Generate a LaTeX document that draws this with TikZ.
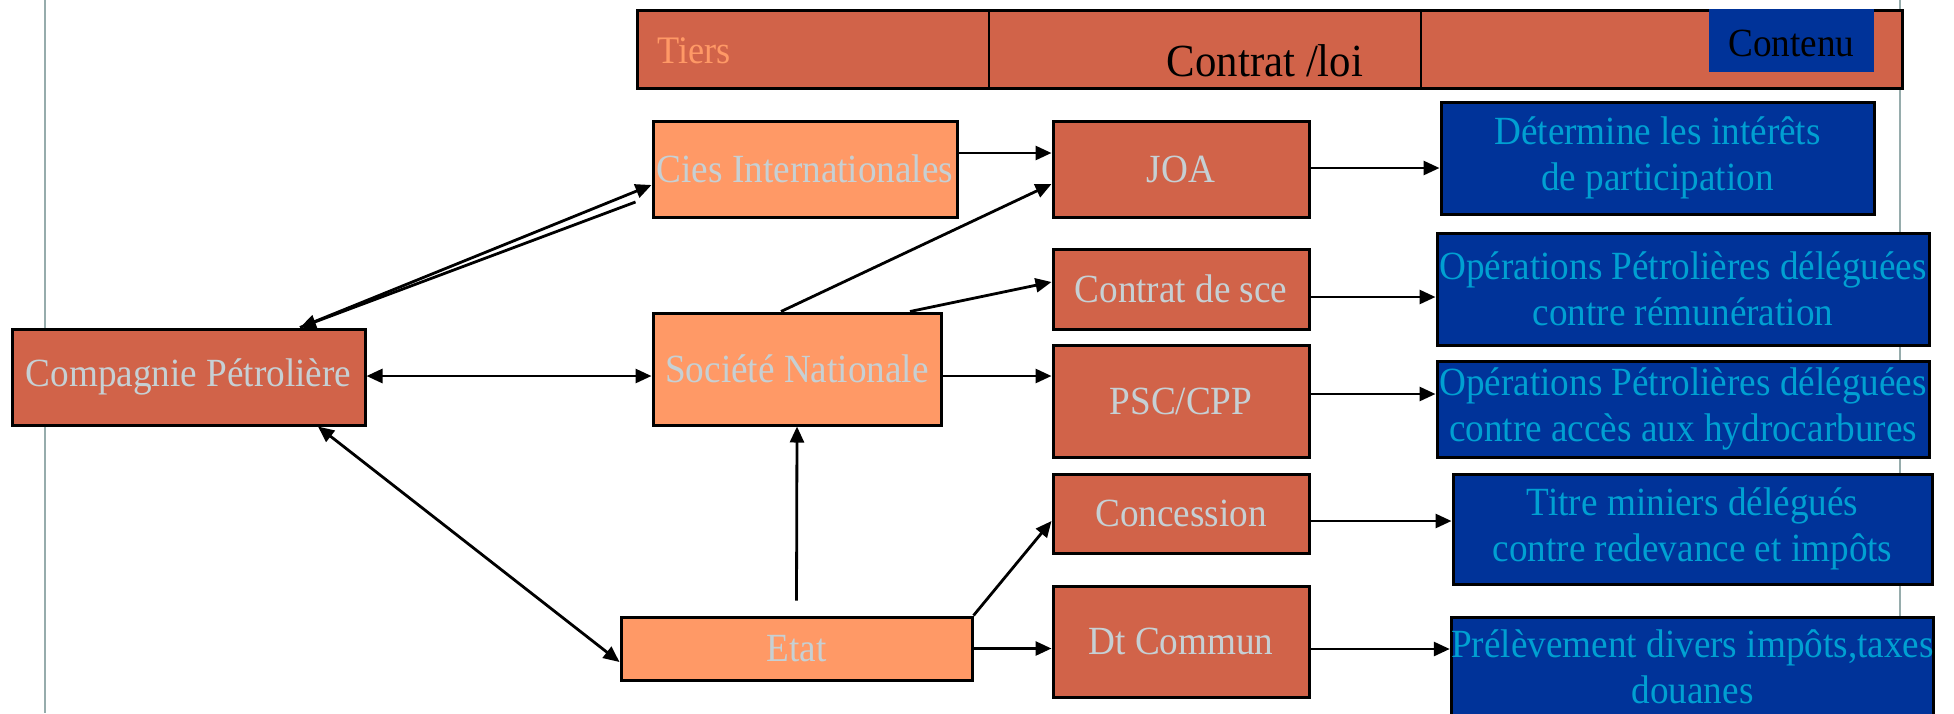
\documentclass[tikz,border=0pt]{standalone}
\usepackage{fontspec}
\setmainfont[FakeStretch=0.93]{Liberation Serif}
\usetikzlibrary{arrows.meta,calc}
\definecolor{darkor}{RGB}{209,99,73}
\definecolor{lightor}{RGB}{255,153,102}
\definecolor{boxtxt}{RGB}{198,208,212}
\definecolor{bluefill}{RGB}{0,51,153}
\definecolor{bluetxt}{RGB}{0,160,210}
\definecolor{guide}{RGB}{150,172,172}
\begin{document}
\begin{tikzpicture}[x=1pt,y=-1pt,
 base/.style={draw=black,line width=3pt,inner sep=0pt,align=center,font=\fontsize{40}{46}\selectfont},
 darkbox/.style={base,fill=darkor,text=boxtxt},
 lightbox/.style={base,fill=lightor,text=boxtxt},
 bluebox/.style={base,fill=bluefill,text=bluetxt},
 arr/.style={line width=2.8pt,-{Triangle[length=16pt,width=14pt]}},
 darr/.style={line width=2.8pt,{Triangle[length=16pt,width=14pt]}-{Triangle[length=16pt,width=14pt]}}]
\useasboundingbox (0,0) rectangle (1954,713);
% guide lines
\draw[guide,line width=2.5pt] (45,0) -- (45,713);
\draw[guide,line width=2.5pt] (1900,0) -- (1900,713);
% header
\node[draw=black,line width=3pt,fill=darkor,inner sep=0pt,minimum width=1265pt,minimum height=78pt] (header) at (1269.5,49) {};
\draw[line width=2.5pt] (989,10) -- (989,88);
\draw[line width=2.5pt] (1421,10) -- (1421,88);
\node[fill=bluefill,inner sep=0pt,minimum width=165pt,minimum height=63pt] (contbox) at (1791.5,40.5) {};
\node[anchor=west,inner sep=0pt,text=lightor,font=\fontsize{39}{42}\selectfont] (tiers) at (657,51) {Tiers};
\node[inner sep=0pt,text=black,font=\fontsize{46}{50}\selectfont] (contrat) at (1265,61) {Contrat /loi};
\node[inner sep=0pt,text=black,font=\fontsize{40}{44}\selectfont] (contenu) at (1791.5,43) {Contenu};
% left nodes
\node[darkbox,minimum width=353pt,minimum height=96pt] (comp) at (188.5,377) {Compagnie Pétrolière};
\node[lightbox,minimum width=304pt,minimum height=96pt] (cies) at (805,169) {Cies Internationales};
\node[lightbox,minimum width=288pt,minimum height=112pt] (socnat) at (797,369) {Société Nationale};
\node[lightbox,minimum width=351pt,minimum height=63pt] (etat) at (796.5,648.5) {Etat};
% middle nodes
\node[darkbox,minimum width=256pt,minimum height=96pt] (joa) at (1181,169) {JOA};
\node[darkbox,minimum width=256pt,minimum height=80pt] (sce) at (1181,289) {Contrat de sce};
\node[darkbox,minimum width=256pt,minimum height=112pt] (psc) at (1181,401) {PSC/CPP};
\node[darkbox,minimum width=256pt,minimum height=79pt] (conc) at (1181,513.5) {Concession};
\node[darkbox,minimum width=256pt,minimum height=111pt] (dtc) at (1181,641.5) {Dt Commun};
% right nodes
\node[bluebox,minimum width=433pt,minimum height=112pt] (b1) at (1657.5,158) {Détermine les intérêts\\de participation};
\node[bluebox,minimum width=492pt,minimum height=112pt] (b2) at (1683,289) {Opérations Pétrolières déléguées\\contre rémunération};
\node[bluebox,minimum width=492pt,minimum height=96pt] (b3) at (1683,409) {Opérations Pétrolières déléguées\\contre accès aux hydrocarbures};
\node[bluebox,minimum width=479pt,minimum height=110pt] (b4) at (1692.5,529) {Titre miniers délégués\\contre redevance et impôts};
\node[bluebox,minimum width=479pt,minimum height=100pt] (b5) at (1692.5,667) {Prélèvement divers impôts,taxes\\douanes};
% connectors
\coordinate (ciesfree) at ($(cies.west)+(-16,33)$);
\coordinate (etatfree) at ($(etat.north)+(0,-15)$);
\draw[arr] ($(comp.north)+(111.5,0)$) -- ($(cies.west)+(0,16)$);
\draw[arr] (ciesfree) -- ($(comp.north)+(111.5,0)$);
\draw[darr] ($(comp.east)+(0,-1)$) -- ($(socnat.west)+(0,7)$);
\draw[darr] ($(comp.south)+(129.5,0)$) -- ($(etat.west)+(0,13.5)$);
\draw[arr] ($(cies.east)+(0,-16)$) -- ($(joa.west)+(0,-16)$);
\draw[arr] ($(socnat.north)+(-16,0)$) -- ($(joa.west)+(0,15)$);
\draw[arr] ($(socnat.north)+(113,0)$) -- ($(sce.west)+(0,-7)$);
\draw[arr] ($(socnat.east)+(0,7)$) -- ($(psc.west)+(0,-25)$);
\draw[arr] (etatfree) -- (socnat.south);
\draw[arr] (etat.north east) -- ($(conc.west)+(0,7.5)$);
\draw[arr] (etat.east) -- ($(dtc.west)+(0,7)$);
\draw[arr] ($(joa.east)+(0,-1)$) -- ($(b1.west)+(0,10)$);
\draw[arr] ($(sce.east)+(0,8)$) -- ($(b2.west)+(0,8)$);
\draw[arr] ($(psc.east)+(0,-7)$) -- ($(b3.west)+(0,-15)$);
\draw[arr] ($(conc.east)+(0,7.5)$) -- ($(b4.west)+(0,-8)$);
\draw[arr] ($(dtc.east)+(0,7.5)$) -- ($(b5.west)+(0,-18)$);
\end{tikzpicture}
\end{document}
